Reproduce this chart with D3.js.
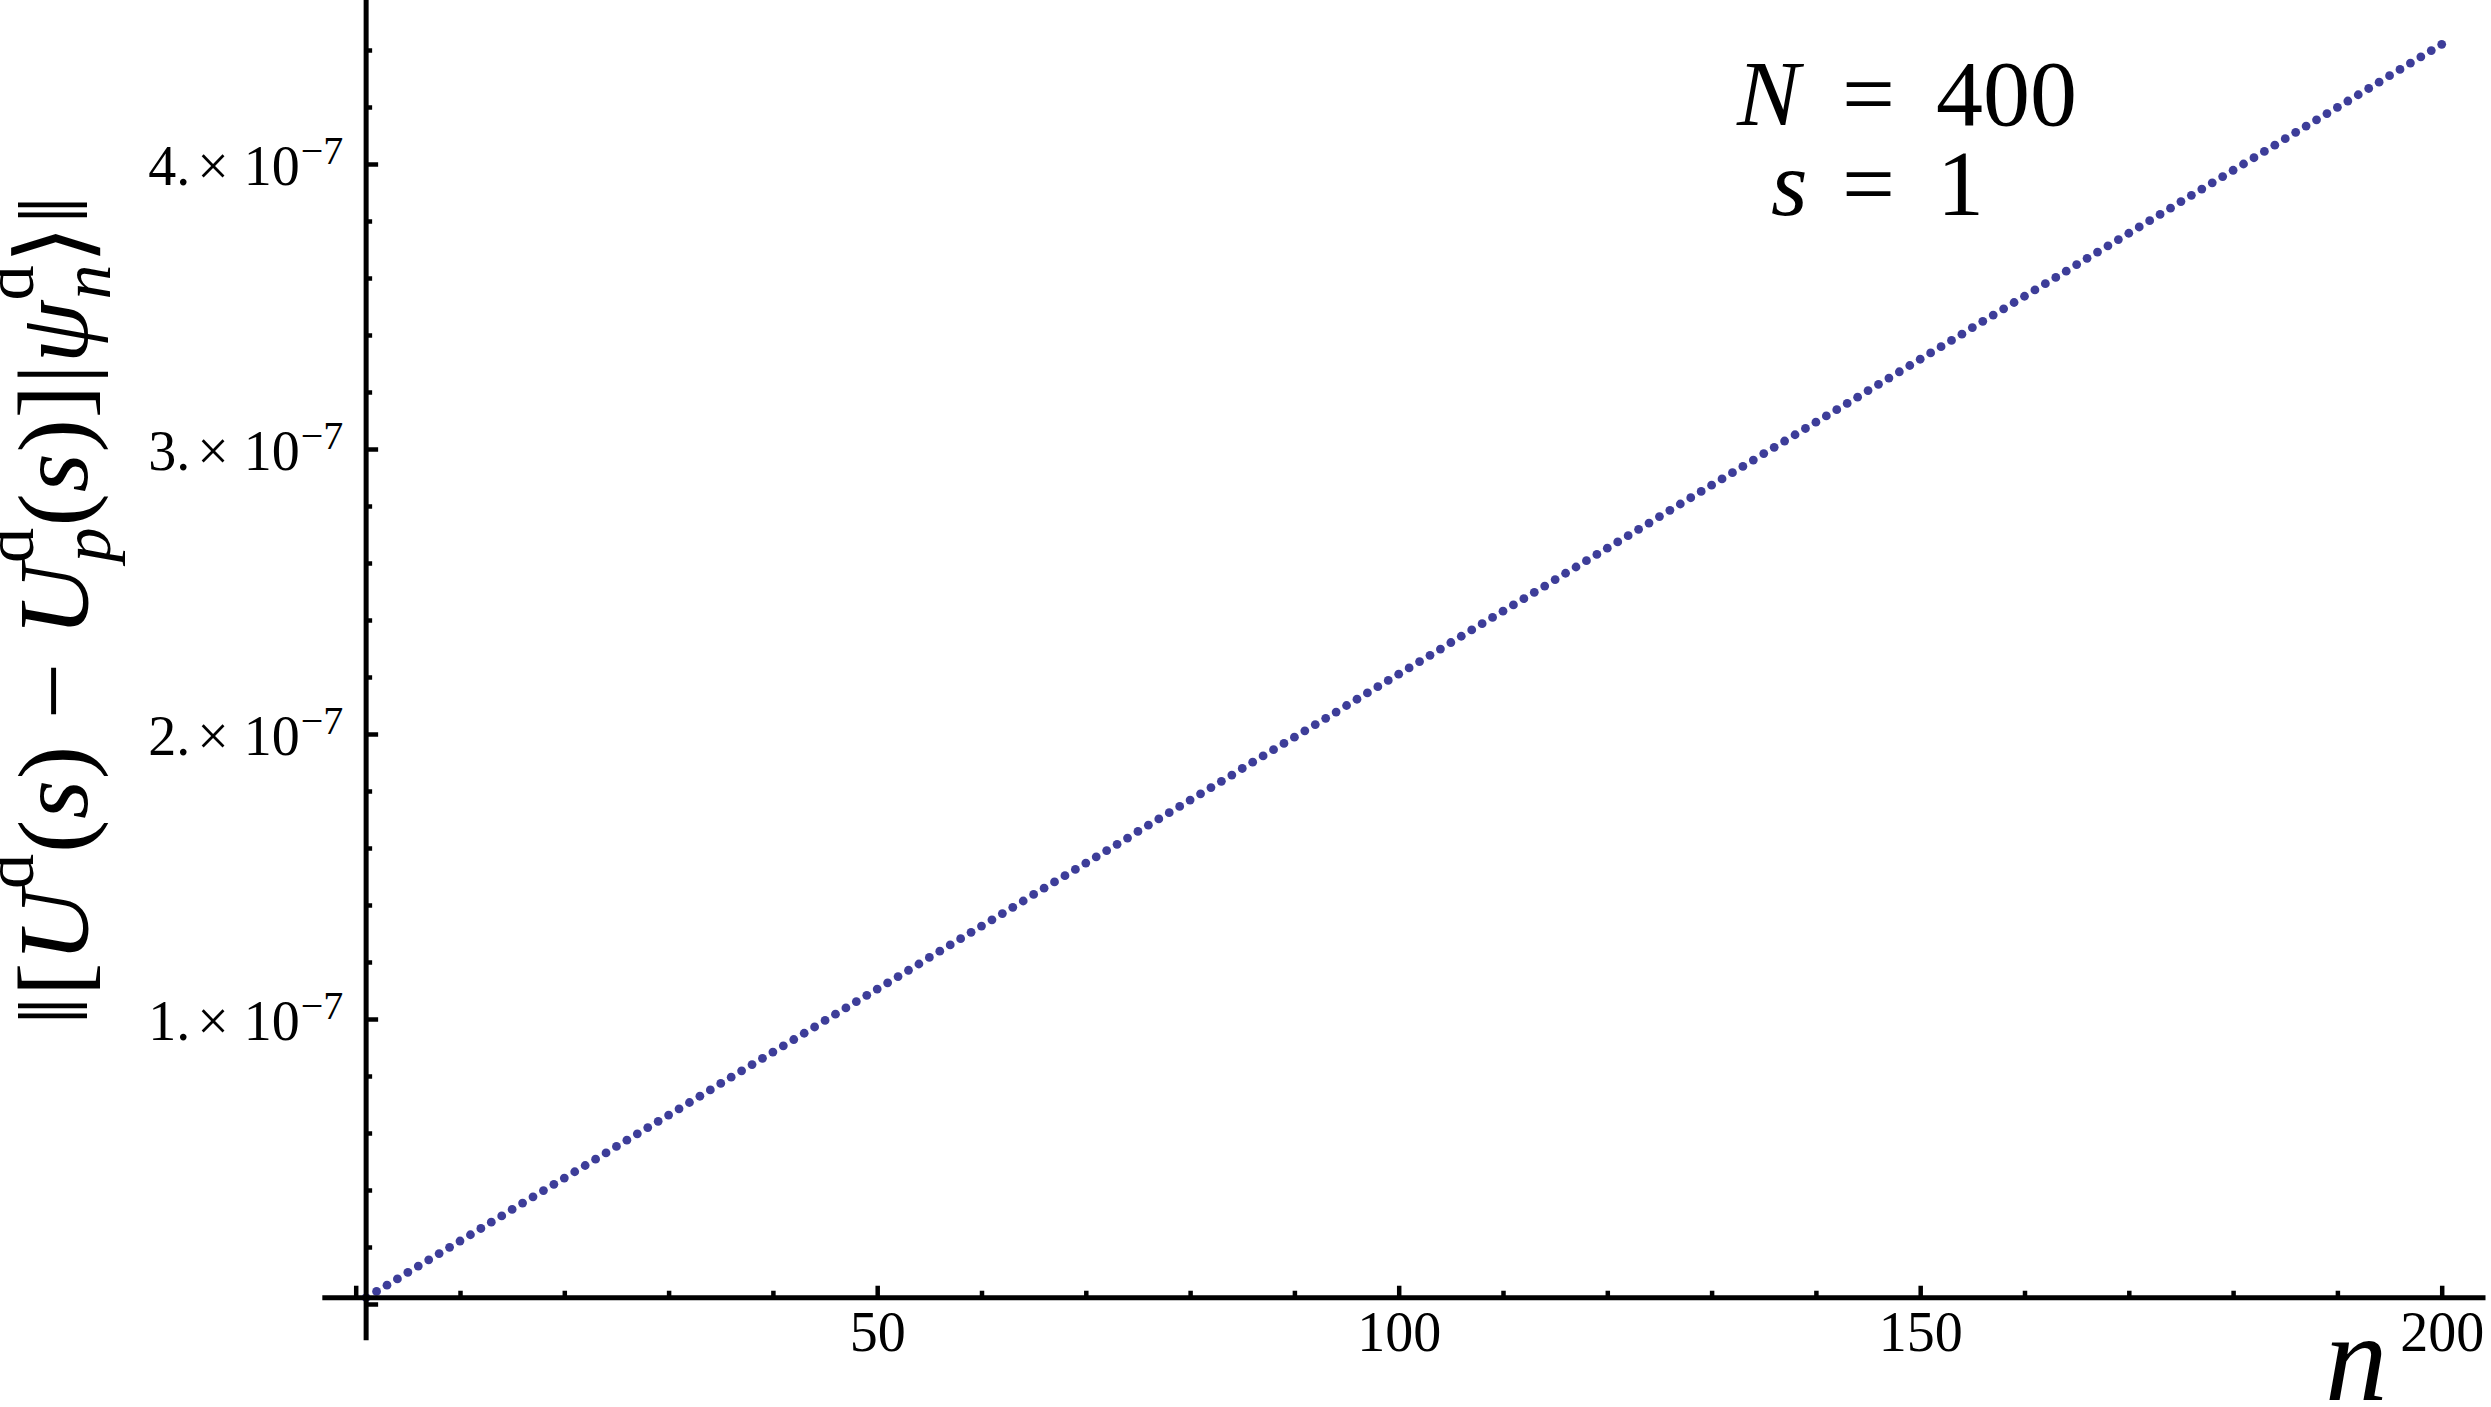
<!DOCTYPE html>
<html>
<head>
<meta charset="utf-8">
<script src="https://cdn.jsdelivr.net/npm/d3@7"></script>
<style>
  body { margin: 0; background: #fff; }
  svg { display: block; }
  text { font-family: "Liberation Serif", "Times New Roman", serif; fill: #000; }
</style>
</head>
<body>
<svg id="chart"></svg>
<script>
// level index n
var nValues = [
    1,   2,   3,   4,   5,   6,   7,   8,   9,  10,  11,  12,  13,  14,  15,  16,  17,  18,  19,  20,
   21,  22,  23,  24,  25,  26,  27,  28,  29,  30,  31,  32,  33,  34,  35,  36,  37,  38,  39,  40,
   41,  42,  43,  44,  45,  46,  47,  48,  49,  50,  51,  52,  53,  54,  55,  56,  57,  58,  59,  60,
   61,  62,  63,  64,  65,  66,  67,  68,  69,  70,  71,  72,  73,  74,  75,  76,  77,  78,  79,  80,
   81,  82,  83,  84,  85,  86,  87,  88,  89,  90,  91,  92,  93,  94,  95,  96,  97,  98,  99, 100,
  101, 102, 103, 104, 105, 106, 107, 108, 109, 110, 111, 112, 113, 114, 115, 116, 117, 118, 119, 120,
  121, 122, 123, 124, 125, 126, 127, 128, 129, 130, 131, 132, 133, 134, 135, 136, 137, 138, 139, 140,
  141, 142, 143, 144, 145, 146, 147, 148, 149, 150, 151, 152, 153, 154, 155, 156, 157, 158, 159, 160,
  161, 162, 163, 164, 165, 166, 167, 168, 169, 170, 171, 172, 173, 174, 175, 176, 177, 178, 179, 180,
  181, 182, 183, 184, 185, 186, 187, 188, 189, 190, 191, 192, 193, 194, 195, 196, 197, 198, 199, 200
];

// error norm, in units of 1e-9
var errorValues = [
    2.2,   4.4,   6.6,   8.8,  11.1,  13.3,  15.5,  17.7,  19.9,  22.1,
   24.3,  26.5,  28.7,  30.9,  33.2,  35.4,  37.6,  39.8,  42.0,  44.2,
   46.4,  48.6,  50.8,  53.0,  55.3,  57.5,  59.7,  61.9,  64.1,  66.3,
   68.5,  70.7,  72.9,  75.1,  77.4,  79.6,  81.8,  84.0,  86.2,  88.4,
   90.6,  92.8,  95.0,  97.2,  99.5, 101.7, 103.9, 106.1, 108.3, 110.5,
  112.7, 114.9, 117.1, 119.3, 121.6, 123.8, 126.0, 128.2, 130.4, 132.6,
  134.8, 137.0, 139.2, 141.4, 143.7, 145.9, 148.1, 150.3, 152.5, 154.7,
  156.9, 159.1, 161.3, 163.5, 165.8, 168.0, 170.2, 172.4, 174.6, 176.8,
  179.0, 181.2, 183.4, 185.6, 187.9, 190.1, 192.3, 194.5, 196.7, 198.9,
  201.1, 203.3, 205.5, 207.7, 210.0, 212.2, 214.4, 216.6, 218.8, 221.0,
  223.2, 225.4, 227.6, 229.8, 232.1, 234.3, 236.5, 238.7, 240.9, 243.1,
  245.3, 247.5, 249.7, 251.9, 254.2, 256.4, 258.6, 260.8, 263.0, 265.2,
  267.4, 269.6, 271.8, 274.0, 276.3, 278.5, 280.7, 282.9, 285.1, 287.3,
  289.5, 291.7, 293.9, 296.1, 298.4, 300.6, 302.8, 305.0, 307.2, 309.4,
  311.6, 313.8, 316.0, 318.2, 320.5, 322.7, 324.9, 327.1, 329.3, 331.5,
  333.7, 335.9, 338.1, 340.3, 342.6, 344.8, 347.0, 349.2, 351.4, 353.6,
  355.8, 358.0, 360.2, 362.4, 364.7, 366.9, 369.1, 371.3, 373.5, 375.7,
  377.9, 380.1, 382.3, 384.5, 386.8, 389.0, 391.2, 393.4, 395.6, 397.8,
  400.0, 402.2, 404.4, 406.6, 408.9, 411.1, 413.3, 415.5, 417.7, 419.9,
  422.1, 424.3, 426.5, 428.7, 431.0, 433.2, 435.4, 437.6, 439.8, 442.0
];

var xMajorTicks = [0, 50, 100, 150, 200];
var xTickLabels = ["", "50", "100", "150", "200"];
var xMinorTicks = [10, 20, 30, 40, 60, 70, 80, 90, 110, 120, 130, 140, 160, 170, 180, 190];

var yMajorTicks = [0, 100, 200, 300, 400];          // units of 1e-9
var yTickMantissas = ["", "1.", "2.", "3.", "4."];
var yTickExponent = "\u22127";
var yMinorTicks = [20, 40, 60, 80, 120, 140, 160, 180, 220, 240, 260, 280, 320, 340, 360, 380, 420, 440];

var width = 2491;
var height = 1407;

var svg = d3.select("#chart")
    .attr("width", width)
    .attr("height", height);

svg.append("rect")
    .attr("width", width)
    .attr("height", height)
    .attr("fill", "#fff");

var x = d3.scaleLinear()
    .domain([0, 200])
    .range([355.7, 2441.7]);

var y = d3.scaleLinear()
    .domain([0, 400])
    .range([1304, 164]);

// plot range the axis lines span
var xRange = [-3.2, 204.2];
var yRange = [-12.7, 457.5];

// axes cross at the first data point
var originX = x(nValues[0]);
var originY = y(errorValues[0]);

// points
svg.append("g")
    .selectAll("circle")
    .data(nValues)
    .enter().append("circle")
    .attr("cx", function(d) { return x(d); })
    .attr("cy", function(d, i) { return y(errorValues[i]); })
    .attr("r", 4.4)
    .attr("fill", "#3d3d99");

// x axis
var xAxis = svg.append("g")
    .attr("transform", `translate(0,${originY})`);

xAxis.append("g")
    .call(d3.axisBottom(x).tickValues(xMinorTicks).tickSize(-7).tickSizeOuter(0).tickFormat(""));

xAxis.append("g")
    .call(d3.axisBottom(x).tickValues(xMajorTicks).tickSize(-12).tickSizeOuter(0).tickPadding(14)
        .tickFormat(function(d, i) { return xTickLabels[i]; }))
    .attr("font-size", 56)
    .attr("font-family", null);

xAxis.selectAll(".domain").remove();
xAxis.selectAll(".tick line").attr("stroke", "#000").attr("stroke-width", 4.5);

xAxis.append("line")
    .attr("x1", x(xRange[0]))
    .attr("x2", x(xRange[1]))
    .attr("stroke", "#000")
    .attr("stroke-width", 5);

// y axis
var yAxis = svg.append("g")
    .attr("transform", `translate(${originX},0)`);

yAxis.append("g")
    .call(d3.axisLeft(y).tickValues(yMinorTicks).tickSize(-6).tickSizeOuter(0).tickFormat(""));

var yMajor = yAxis.append("g")
    .call(d3.axisLeft(y).tickValues(yMajorTicks).tickSize(-12).tickSizeOuter(0).tickFormat(""));

yAxis.selectAll(".domain").remove();
yAxis.selectAll(".tick line").attr("stroke", "#000").attr("stroke-width", 4.5);
yAxis.selectAll(".tick text").remove();

yMajor.selectAll(".tick").each(function(d, i) {
    if (!yTickMantissas[i]) return;
    var t = d3.select(this).append("text")
        .attr("x", -218)
        .attr("y", 20)
        .attr("text-anchor", "start")
        .attr("font-size", 56);
    t.append("tspan").text(yTickMantissas[i]);
    t.append("tspan").attr("dx", 7).text("\u00d7");
    t.append("tspan").attr("dx", 15).text("10");
    t.append("tspan").attr("dx", 1).attr("dy", -21).attr("font-size", 40).text(yTickExponent);
});

yAxis.append("line")
    .attr("y1", y(yRange[0]))
    .attr("y2", y(yRange[1]))
    .attr("stroke", "#000")
    .attr("stroke-width", 5);

// axis labels
svg.append("text")
    .attr("x", 2325)
    .attr("y", 1400)
    .attr("font-size", 125)
    .attr("font-style", "italic")
    .text("n");

var yLabelParts = [
    {t: "\u2016["},
    {t: "U", it: true},
    {t: "d", s: 70, dy: -54},
    {t: "(", dy: 54},
    {t: "s", it: true},
    {t: ") \u2212 "},
    {t: "U", it: true},
    {t: "d", s: 70, dy: -54},
    {t: "p", it: true, s: 70, dx: -35, dy: 77},
    {t: "(", dy: -23},
    {t: "s", it: true},
    {t: ")]|"},
    {t: "\u03c8", it: true},
    {t: "d", s: 70, dy: -54},
    {t: "n", it: true, s: 70, dx: -35, dy: 77},
    {t: "\u27e9\u2016", dy: -23}
];

var yLabel = svg.append("text")
    .attr("transform", "translate(87,610) rotate(-90)")
    .attr("text-anchor", "middle")
    .attr("font-size", 100);

yLabelParts.forEach(function(p) {
    var ts = yLabel.append("tspan").text(p.t);
    if (p.it) ts.attr("font-style", "italic");
    if (p.s) ts.attr("font-size", p.s);
    if (p.dx) ts.attr("dx", p.dx);
    if (p.dy) ts.attr("dy", p.dy);
});

// stretch spacing so the label spans the same length as the original
var labelLength = yLabel.node().getComputedTextLength();
var nChars = yLabelParts.reduce(function(a, p) { return a + p.t.length; }, 0);
yLabel.style("letter-spacing", ((900 - labelLength) / nChars) + "px");

// annotation, one piece per text
var notePieces = [
    {t: "N",   x: 1737, y: 125, it: true},
    {t: "=",   x: 1842, y: 125},
    {t: "400", x: 1936, y: 125},
    {t: "s",   x: 1771, y: 215, it: true},
    {t: "=",   x: 1842, y: 215},
    {t: "1",   x: 1937, y: 215}
];

svg.append("g")
    .selectAll("text")
    .data(notePieces)
    .enter().append("text")
    .attr("x", function(d) { return d.x; })
    .attr("y", function(d) { return d.y; })
    .attr("font-size", 94)
    .attr("font-style", function(d) { return d.it ? "italic" : null; })
    .text(function(d) { return d.t; });
</script>
</body>
</html>
